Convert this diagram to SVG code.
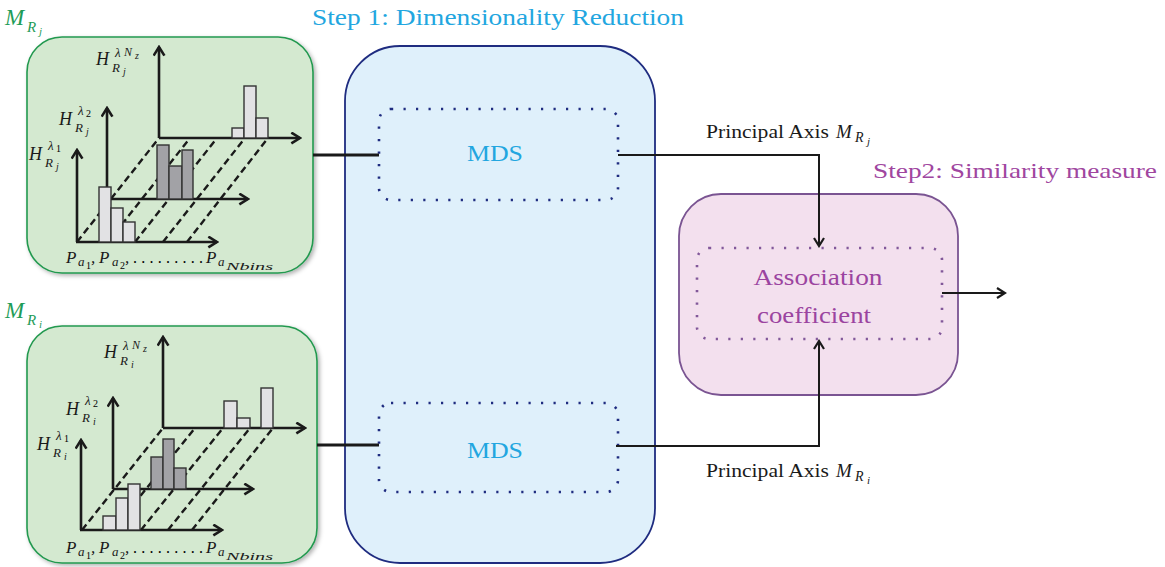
<svg xmlns="http://www.w3.org/2000/svg" width="1165" height="567" viewBox="0 0 1165 567">
<defs>
<style>
.green{fill:#d4e9d0;stroke:#23994f;stroke-width:1.6}
.blue{fill:#dff0fb;stroke:#1f2c80;stroke-width:1.8}
.pink{fill:#f3e0ee;stroke:#7a5492;stroke-width:1.8}
.dotb{fill:none;stroke:#1f2c80;stroke-width:2.6;stroke-dasharray:2.2 10.3;stroke-linecap:butt}
.dotp{fill:none;stroke:#82589a;stroke-width:2.6;stroke-dasharray:2.2 10.3}
.axis{stroke:#1a1a1a;stroke-width:2.6;fill:none}
.dash{stroke:#1a1a1a;stroke-width:2.4;stroke-dasharray:7 4;fill:none}
.lb{fill:#e2e2e4;stroke:#333;stroke-width:1.4}
.db{fill:#a2a2a6;stroke:#333;stroke-width:1.4}
.conn{stroke:#1a1a1a;stroke-width:2;fill:none}
.thick{stroke:#1a1a1a;stroke-width:3;fill:none}
.serif{font-family:"Liberation Serif","DejaVu Serif",serif}
.it{font-family:"Liberation Serif","DejaVu Serif",serif;font-style:italic;fill:#1a1a1a}
.big{font-size:18px}
.mid{font-size:13px}
.sm{font-size:10px}
</style>
<marker id="ax" viewBox="0 0 12 12" refX="10" refY="6" markerWidth="13" markerHeight="13" markerUnits="userSpaceOnUse" orient="auto">
<path d="M2,1 L10,6 L2,11" fill="none" stroke="#1a1a1a" stroke-width="2.4"/>
</marker>
<marker id="ar" viewBox="0 0 12 12" refX="10" refY="6" markerWidth="12" markerHeight="12" markerUnits="userSpaceOnUse" orient="auto">
<path d="M2,1 L10,6 L2,11" fill="none" stroke="#1a1a1a" stroke-width="2.2"/>
</marker>
<filter id="sh" x="-10%" y="-10%" width="120%" height="120%">
<feDropShadow dx="2" dy="2" stdDeviation="2" flood-color="#000" flood-opacity="0.3"/>
</filter>
</defs>
<rect width="1165" height="567" fill="#ffffff"/>

<!-- titles -->
<text x="312" y="25" class="serif" font-size="23" fill="#22a6e0" textLength="372" lengthAdjust="spacingAndGlyphs">Step 1: Dimensionality Reduction</text>
<text x="873" y="178" class="serif" font-size="22" fill="#a0469f" textLength="284" lengthAdjust="spacingAndGlyphs">Step2: Similarity measure</text>

<!-- top green node -->
<g id="node-MRj">
<rect x="27" y="37" width="286" height="236" rx="35" class="green" filter="url(#sh)"/>
<text x="5" y="25" class="it" font-size="23" style="fill:#1f9c58">M</text>
<text x="27" y="32" class="it" font-size="15" style="fill:#1f9c58">R</text>
<text x="39" y="35" class="it" font-size="11" style="fill:#1f9c58">j</text>
<g class="dashes">
<line x1="77" y1="242" x2="159" y2="138" class="dash"/>
<line x1="108" y1="242" x2="190" y2="138" class="dash"/>
<line x1="135" y1="242" x2="217" y2="138" class="dash"/>
<line x1="163" y1="242" x2="245" y2="138" class="dash"/>
<line x1="187" y1="242" x2="268" y2="138" class="dash"/>
</g>
<line x1="159" y1="138" x2="300" y2="138" class="axis" marker-end="url(#ax)"/>
<line x1="159" y1="138" x2="159" y2="47" class="axis" marker-end="url(#ax)"/>
<line x1="107" y1="199" x2="248" y2="199" class="axis" marker-end="url(#ax)"/>
<line x1="107" y1="199" x2="107" y2="108" class="axis" marker-end="url(#ax)"/>
<line x1="76" y1="242" x2="217" y2="242" class="axis" marker-end="url(#ax)"/>
<line x1="77" y1="242" x2="77" y2="150" class="axis" marker-end="url(#ax)"/>
<rect x="232" y="128" width="12" height="10" class="lb"/>
<rect x="244" y="86" width="12" height="52" class="lb"/>
<rect x="256" y="118" width="12" height="20" class="lb"/>
<rect x="157" y="145" width="12" height="54" class="db"/>
<rect x="169" y="166" width="13" height="33" class="db"/>
<rect x="182" y="150" width="11" height="49" class="db"/>
<rect x="99" y="187" width="12" height="55" class="lb"/>
<rect x="111" y="208" width="12" height="34" class="lb"/>
<rect x="123" y="222" width="12" height="20" class="lb"/>
<g transform="translate(96,65)">
<text x="0" y="0" class="it big">H</text><text x="19" y="-8" class="it mid">λ</text><text x="28" y="-9" class="it" font-size="12">N</text><text x="39" y="-6" class="it" font-size="10">z</text><text x="16" y="7" class="it mid">R</text><text x="27" y="10" class="it sm">j</text>
</g>
<g transform="translate(59,125)">
<text x="0" y="0" class="it big">H</text><text x="19" y="-10" class="it mid">λ</text><text x="27" y="-8" class="serif sm">2</text><text x="16" y="7" class="it mid">R</text><text x="27" y="10" class="it sm">j</text>
</g>
<g transform="translate(29,160)">
<text x="0" y="0" class="it big">H</text><text x="19" y="-10" class="it mid">λ</text><text x="27" y="-8" class="serif sm">1</text><text x="16" y="7" class="it mid">R</text><text x="27" y="10" class="it sm">j</text>
</g>
<g transform="translate(66,263)">
<text x="0" y="0" class="it" font-size="17">P</text><text x="12" y="3" class="it" font-size="13">a</text><text x="20" y="6" class="serif" font-size="10">1</text><text x="25" y="0" class="it" font-size="17">,</text>
<text x="33" y="0" class="it" font-size="17">P</text><text x="46" y="3" class="it" font-size="13">a</text><text x="54" y="6" class="serif" font-size="10">2</text><text x="59" y="0" class="it" font-size="17">,</text>
<text x="67" y="0" class="serif" font-size="16" textLength="70" lengthAdjust="spacing">.........</text>
<text x="140" y="0" class="it" font-size="17">P</text><text x="152" y="3" class="it" font-size="13">a</text><text x="160" y="7" class="it" font-size="11" textLength="47" lengthAdjust="spacingAndGlyphs">Nbins</text>
</g>
</g>

<!-- bottom green node -->
<g id="node-MRi">
<rect x="27" y="326" width="290" height="237" rx="35" class="green" filter="url(#sh)"/>
<text x="5" y="318" class="it" font-size="23" style="fill:#1f9c58">M</text>
<text x="27" y="325" class="it" font-size="15" style="fill:#1f9c58">R</text>
<text x="39" y="328" class="it" font-size="11" style="fill:#1f9c58">i</text>
<g class="dashes">
<line x1="82" y1="530" x2="163" y2="428" class="dash"/>
<line x1="113" y1="530" x2="195" y2="428" class="dash"/>
<line x1="141" y1="530" x2="223" y2="428" class="dash"/>
<line x1="168" y1="530" x2="250" y2="428" class="dash"/>
<line x1="192" y1="530" x2="273" y2="428" class="dash"/>
</g>
<line x1="163" y1="428" x2="305" y2="428" class="axis" marker-end="url(#ax)"/>
<line x1="163" y1="428" x2="163" y2="337" class="axis" marker-end="url(#ax)"/>
<line x1="113" y1="489" x2="253" y2="489" class="axis" marker-end="url(#ax)"/>
<line x1="113" y1="489" x2="113" y2="398" class="axis" marker-end="url(#ax)"/>
<line x1="80" y1="530" x2="222" y2="530" class="axis" marker-end="url(#ax)"/>
<line x1="81" y1="530" x2="81" y2="440" class="axis" marker-end="url(#ax)"/>
<rect x="224" y="401" width="13" height="27" class="lb"/>
<rect x="237" y="418" width="13" height="10" class="lb"/>
<rect x="261" y="388" width="12" height="40" class="lb"/>
<rect x="151" y="457" width="12" height="32" class="db"/>
<rect x="163" y="439" width="11" height="50" class="db"/>
<rect x="174" y="468" width="12" height="21" class="db"/>
<rect x="103" y="516" width="13" height="14" class="lb"/>
<rect x="116" y="498" width="12" height="32" class="lb"/>
<rect x="128" y="484" width="12" height="46" class="lb"/>
<g transform="translate(104,358)">
<text x="0" y="0" class="it big">H</text><text x="19" y="-8" class="it mid">λ</text><text x="28" y="-9" class="it" font-size="12">N</text><text x="39" y="-6" class="it" font-size="10">z</text><text x="16" y="7" class="it mid">R</text><text x="27" y="10" class="it sm">i</text>
</g>
<g transform="translate(66,415)">
<text x="0" y="0" class="it big">H</text><text x="19" y="-10" class="it mid">λ</text><text x="27" y="-8" class="serif sm">2</text><text x="16" y="7" class="it mid">R</text><text x="27" y="10" class="it sm">i</text>
</g>
<g transform="translate(37,450)">
<text x="0" y="0" class="it big">H</text><text x="19" y="-10" class="it mid">λ</text><text x="27" y="-8" class="serif sm">1</text><text x="16" y="7" class="it mid">R</text><text x="27" y="10" class="it sm">i</text>
</g>
<g transform="translate(66,553)">
<text x="0" y="0" class="it" font-size="17">P</text><text x="12" y="3" class="it" font-size="13">a</text><text x="20" y="6" class="serif" font-size="10">1</text><text x="25" y="0" class="it" font-size="17">,</text>
<text x="33" y="0" class="it" font-size="17">P</text><text x="46" y="3" class="it" font-size="13">a</text><text x="54" y="6" class="serif" font-size="10">2</text><text x="59" y="0" class="it" font-size="17">,</text>
<text x="67" y="0" class="serif" font-size="16" textLength="70" lengthAdjust="spacing">.........</text>
<text x="140" y="0" class="it" font-size="17">P</text><text x="152" y="3" class="it" font-size="13">a</text><text x="160" y="7" class="it" font-size="11" textLength="47" lengthAdjust="spacingAndGlyphs">Nbins</text>
</g>
</g>

<!-- blue step 1 node -->
<g id="node-step1">
<rect x="345" y="46" width="310" height="517" rx="55" class="blue"/>
</g>
<g id="node-MDS-top">
<rect x="379" y="109" width="239" height="91" rx="12" class="dotb"/>
<text x="495" y="161" class="serif" font-size="24" fill="#22a6e0" text-anchor="middle" textLength="56" lengthAdjust="spacingAndGlyphs">MDS</text>
</g>
<g id="node-MDS-bottom">
<rect x="379" y="403" width="239" height="89" rx="12" class="dotb"/>
<text x="495" y="458" class="serif" font-size="24" fill="#22a6e0" text-anchor="middle" textLength="56" lengthAdjust="spacingAndGlyphs">MDS</text>
</g>

<!-- pink step 2 node -->
<g id="node-step2">
<rect x="679" y="194" width="279" height="201" rx="42" class="pink"/>
</g>
<g id="node-association">
<rect x="697" y="248" width="245" height="91" rx="12" class="dotp"/>
<text x="818" y="285" class="serif" font-size="23" fill="#9b44a0" text-anchor="middle" textLength="129" lengthAdjust="spacingAndGlyphs">Association</text>
<text x="814" y="323" class="serif" font-size="23" fill="#9b44a0" text-anchor="middle" textLength="114" lengthAdjust="spacingAndGlyphs">coefficient</text>
</g>

<!-- connectors -->
<g id="connectors">
<line x1="313" y1="155" x2="379" y2="155" class="thick"/>
<line x1="317" y1="445" x2="379" y2="445" class="thick"/>
<path d="M618,155 H819 V246" class="conn" marker-end="url(#ar)"/>
<path d="M616,446 H819 V341" class="conn" marker-end="url(#ar)"/>
<line x1="942" y1="293" x2="1005" y2="293" class="conn" marker-end="url(#ar)"/>
<g>
<text x="706" y="138" class="serif" font-size="19" fill="#1a1a1a" textLength="123" lengthAdjust="spacingAndGlyphs">Principal Axis</text>
<text x="836" y="138" class="it" font-size="19">M</text><text x="855" y="142" class="it" font-size="14">R</text><text x="867" y="145" class="it" font-size="11">j</text>
</g>
<g>
<text x="706" y="477" class="serif" font-size="19" fill="#1a1a1a" textLength="123" lengthAdjust="spacingAndGlyphs">Principal Axis</text>
<text x="836" y="477" class="it" font-size="19">M</text><text x="855" y="481" class="it" font-size="14">R</text><text x="867" y="484" class="it" font-size="11">i</text>
</g>
</g>
</svg>
